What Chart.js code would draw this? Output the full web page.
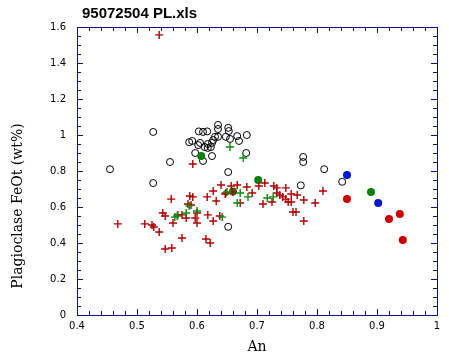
<!DOCTYPE html>
<html>
<head>
<meta charset="utf-8">
<script src="https://cdn.jsdelivr.net/npm/chart.js@4.4.1/dist/chart.umd.min.js"></script>
<style>
  html, body { margin: 0; padding: 0; background: #fff; }
  #wrap { width: 449px; height: 362px; }
</style>
</head>
<body>
<div id="wrap"><canvas id="chart" width="449" height="362"></canvas></div>
<script>
// data: [An, FeOt]
const openCircles = [
  [0.455, 0.81], [0.527, 1.017], [0.527, 0.733], [0.555, 0.85], [0.587, 0.96],
  [0.592, 0.967], [0.597, 0.90], [0.602, 0.944], [0.605, 0.956], [0.603, 1.02],
  [0.61, 1.017], [0.617, 1.02], [0.61, 0.856], [0.618, 0.95], [0.625, 0.956],
  [0.627, 0.972], [0.63, 0.99], [0.635, 0.99], [0.635, 1.056], [0.635, 1.033],
  [0.652, 1.04], [0.653, 1.022], [0.648, 0.99], [0.655, 0.978], [0.667, 0.994],
  [0.670, 0.967], [0.683, 1.0], [0.613, 0.933], [0.618, 0.928], [0.623, 0.933],
  [0.625, 0.883], [0.652, 0.794], [0.652, 0.49], [0.682, 0.90], [0.777, 0.878],
  [0.777, 0.85], [0.812, 0.81], [0.773, 0.72], [0.842, 0.74]
];
const redCrosses = [
  [0.537, 1.556], [0.593, 0.839], [0.468, 0.506], [0.513, 0.506], [0.525, 0.500],
  [0.528, 0.489], [0.537, 0.461], [0.547, 0.367], [0.558, 0.372], [0.575, 0.428],
  [0.557, 0.644], [0.543, 0.567], [0.547, 0.550], [0.560, 0.511], [0.568, 0.556],
  [0.575, 0.556], [0.582, 0.539], [0.588, 0.661], [0.593, 0.656], [0.585, 0.617],
  [0.590, 0.611], [0.597, 0.539], [0.600, 0.511], [0.600, 0.567], [0.617, 0.656],
  [0.618, 0.556], [0.615, 0.422], [0.622, 0.400], [0.627, 0.689], [0.632, 0.633],
  [0.640, 0.722], [0.648, 0.678], [0.657, 0.717], [0.667, 0.722], [0.660, 0.683],
  [0.672, 0.622], [0.683, 0.711], [0.692, 0.678], [0.703, 0.717], [0.713, 0.733],
  [0.710, 0.617], [0.725, 0.628], [0.728, 0.717], [0.733, 0.706], [0.733, 0.678],
  [0.738, 0.667], [0.748, 0.706], [0.743, 0.656], [0.748, 0.644], [0.752, 0.628],
  [0.757, 0.628], [0.757, 0.672], [0.767, 0.667], [0.760, 0.572], [0.765, 0.572],
  [0.778, 0.639], [0.778, 0.522], [0.797, 0.622], [0.810, 0.689], [0.627, 0.522],
  [0.638, 0.550], [0.647, 0.672]
];
const greenCrosses = [
  [0.655, 0.933], [0.677, 0.872], [0.650, 0.683], [0.672, 0.678], [0.667, 0.622],
  [0.685, 0.656], [0.717, 0.650], [0.727, 0.656], [0.642, 0.544], [0.563, 0.544],
  [0.567, 0.550], [0.582, 0.567], [0.587, 0.606], [0.600, 0.578]
];
const greenDots = [[0.607, 0.883], [0.702, 0.75], [0.660, 0.686], [0.890, 0.683]];
const blueDots = [[0.850, 0.778], [0.902, 0.622]];
const redDots = [[0.850, 0.644], [0.920, 0.533], [0.938, 0.561], [0.943, 0.417]];

const xTicks = [0.4, 0.5, 0.6, 0.7, 0.8, 0.9, 1];
const yTicks = [0, 0.2, 0.4, 0.6, 0.8, 1, 1.2, 1.4, 1.6];

const NAVY = '#10107a';
const SERIF = '"DejaVu Serif", "Liberation Serif", serif';
const pts = arr => arr.map(p => ({ x: p[0], y: p[1] }));

// frame + inward ticks on all four sides, titles drawn by hand
const framePlugin = {
  id: 'frame',
  afterDraw(chart) {
    const { ctx, chartArea: a, scales: { x, y } } = chart;
    ctx.save();
    ctx.strokeStyle = NAVY;
    ctx.lineWidth = 1;
    ctx.strokeRect(a.left + 0.5, a.top + 0.5, a.right - a.left, a.bottom - a.top);
    ctx.beginPath();
    for (let i = 0; i <= 30; i++) {
      const v = 0.4 + i * 0.02;
      const px = Math.round(x.getPixelForValue(v)) + 0.5;
      const len = i % 5 === 0 ? 6 : 4;
      ctx.moveTo(px, a.bottom); ctx.lineTo(px, a.bottom - len);
      ctx.moveTo(px, a.top); ctx.lineTo(px, a.top + len);
    }
    for (let i = 0; i <= 32; i++) {
      const v = i * 0.05;
      const py = Math.round(y.getPixelForValue(v)) + 0.5;
      const len = i % 4 === 0 ? 6 : 4;
      ctx.moveTo(a.left, py); ctx.lineTo(a.left + len, py);
      ctx.moveTo(a.right, py); ctx.lineTo(a.right - len, py);
    }
    ctx.stroke();

    ctx.fillStyle = '#000';
    ctx.font = 'bold 15px "Liberation Sans", Arial, sans-serif';
    ctx.textBaseline = 'alphabetic';
    ctx.textAlign = 'left';
    ctx.fillText('95072504 PL.xls', a.left + 5, 18);

    ctx.font = '14px ' + SERIF;
    ctx.textAlign = 'center';
    ctx.textBaseline = 'middle';
    ctx.fillText('An', (a.left + a.right) / 2, 347);

    ctx.translate(18, 206);
    ctx.rotate(-Math.PI / 2);
    ctx.fillText('Plagioclase FeOt (wt%)', 0, 0);
    ctx.restore();
  }
};

new Chart(document.getElementById('chart'), {
  type: 'scatter',
  data: {
    datasets: [
      { label: 'red dots', data: pts(redDots), order: 1, pointStyle: 'circle', pointRadius: 4,
        backgroundColor: '#cc0000', borderColor: '#cc0000', borderWidth: 0 },
      { label: 'blue dots', data: pts(blueDots), order: 2, pointStyle: 'circle', pointRadius: 4,
        backgroundColor: '#0018d0', borderColor: '#0018d0', borderWidth: 0 },
      { label: 'green crosses', data: pts(greenCrosses), order: 3, pointStyle: 'cross', pointRadius: 4,
        borderColor: '#0c8a0c', borderWidth: 1.4 },
      { label: 'red crosses', data: pts(redCrosses), order: 4, pointStyle: 'cross', pointRadius: 4,
        borderColor: '#b00000', borderWidth: 1.4 },
      { label: 'green dots', data: pts(greenDots), order: 5, pointStyle: 'circle', pointRadius: 4,
        backgroundColor: '#0a7f0a', borderColor: '#0a7f0a', borderWidth: 0 },
      { label: 'open circles', data: pts(openCircles), order: 6, pointStyle: 'circle', pointRadius: 3.5,
        backgroundColor: 'rgba(0,0,0,0)', borderColor: '#000', borderWidth: 1 }
    ]
  },
  options: {
    responsive: false,
    animation: false,
    events: [],
    layout: { padding: { left: 0, right: 12, top: 27, bottom: 0 } },
    plugins: { legend: { display: false }, tooltip: { enabled: false }, title: { display: false } },
    scales: {
      x: {
        type: 'linear', min: 0.4, max: 1,
        afterBuildTicks: s => { s.ticks = xTicks.map(v => ({ value: v })); },
        afterFit: s => { s.height = 47; },
        grid: { display: false, drawTicks: false },
        border: { display: false },
        ticks: { color: '#000', padding: 5, maxRotation: 0,
          font: { family: '"DejaVu Sans", sans-serif', size: 10 },
          callback: v => String(v) }
      },
      y: {
        type: 'linear', min: 0, max: 1.6,
        afterBuildTicks: s => { s.ticks = yTicks.map(v => ({ value: v })); },
        afterFit: s => { s.width = 77; },
        grid: { display: false, drawTicks: false },
        border: { display: false },
        ticks: { color: '#000', padding: 11,
          font: { family: '"DejaVu Sans", sans-serif', size: 10 },
          callback: v => String(v) }
      }
    }
  },
  plugins: [framePlugin]
});
</script>
</body>
</html>
